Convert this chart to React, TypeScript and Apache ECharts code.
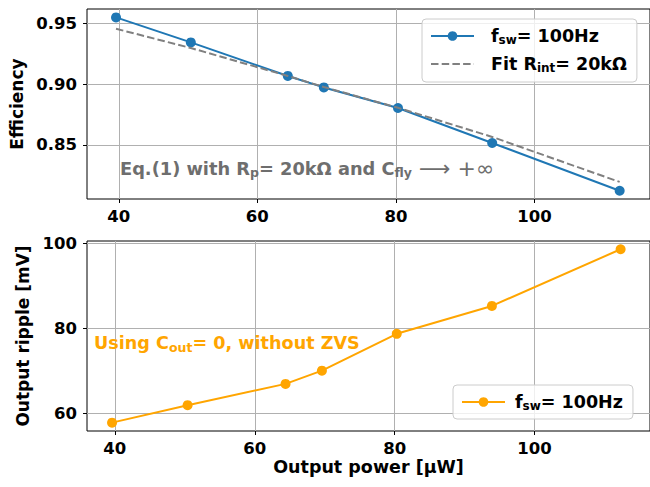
import { useEffect, useRef } from "react";
import * as echarts from "echarts";

const power = [39.6, 50.4, 64.4, 69.6, 80.3, 93.9, 112.3];
const efficiency = [0.9546, 0.9341, 0.9066, 0.8972, 0.8803, 0.8516, 0.8125];
const fitEfficiency = [0.9453, 0.9295, 0.9066, 0.8975, 0.8805, 0.8566, 0.8197];
const ripple = [57.9, 62.0, 67.0, 70.1, 78.75, 85.3, 98.6];
const powerTicks = [40, 60, 80, 100];
const effTicks = [0.85, 0.9, 0.95];
const rippleTicks = [60, 80, 100];

const FONT = '"DejaVu Sans", sans-serif';
const BLUE = "#1f77b4";
const ORANGE = "#ffa500";
const GRAY = "#808080";

const richBase = (size: number, sub: number, color?: string, math = size) => ({
  n: { fontFamily: FONT, fontWeight: "bold", fontSize: size, color, lineHeight: size + 5 },
  s: { fontFamily: FONT, fontWeight: "bold", fontSize: sub, color, lineHeight: size + 5, padding: [8, 0, 0, 0] },
  m: { fontFamily: FONT, fontWeight: "normal", fontSize: math, color, lineHeight: size + 5 },
});

export default function App() {
  const ref = useRef<HTMLDivElement>(null);
  useEffect(() => {
    if (!ref.current) return;
    const chart = echarts.init(ref.current, null, { renderer: "svg" });
    const axisCommon = {
      axisLine: { show: false },
      axisTick: { show: true, length: 4, inside: false, lineStyle: { color: "#000", width: 1 } },
      splitLine: { show: true, lineStyle: { color: "#b0b0b0", width: 1 } },
      axisLabel: { fontFamily: FONT, fontWeight: "bold", fontSize: 16.5, color: "#000" },
    };
    const xStep = powerTicks[1] - powerTicks[0];
    const option: any = {
      animation: false,
      grid: [
        { left: 87, top: 9, right: -3, height: 190, show: true, borderColor: "#000", borderWidth: 1, backgroundColor: "transparent" },
        { left: 87, top: 241, right: -3, height: 190, show: true, borderColor: "#000", borderWidth: 1, backgroundColor: "transparent" },
      ],
      xAxis: [
        {
          ...axisCommon, type: "value", gridIndex: 0, min: 35.41, max: 116.68,
          minInterval: xStep, maxInterval: xStep,
          axisTick: { ...axisCommon.axisTick, customValues: powerTicks },
          axisLabel: { ...axisCommon.axisLabel, customValues: powerTicks, margin: 9 },
        },
        {
          ...axisCommon, type: "value", gridIndex: 1, min: 36.02, max: 116.5,
          minInterval: xStep, maxInterval: xStep,
          axisTick: { ...axisCommon.axisTick, customValues: powerTicks },
          axisLabel: { ...axisCommon.axisLabel, customValues: powerTicks, margin: 9 },
          name: "Output power [μW]", nameLocation: "middle", nameGap: 27,
          nameTextStyle: { fontFamily: FONT, fontWeight: "bold", fontSize: 17.5, color: "#000" },
        },
      ],
      yAxis: [
        {
          ...axisCommon, type: "value", gridIndex: 0, min: 0.8057, max: 0.9615,
          minInterval: effTicks[1] - effTicks[0], maxInterval: effTicks[1] - effTicks[0],
          axisTick: { ...axisCommon.axisTick, customValues: effTicks },
          axisLabel: { ...axisCommon.axisLabel, customValues: effTicks, margin: 10, formatter: (v: number) => v.toFixed(2) },
          name: "Efficiency", nameLocation: "middle", nameGap: 55,
          nameTextStyle: { fontFamily: FONT, fontWeight: "bold", fontSize: 17, color: "#000" },
        },
        {
          ...axisCommon, type: "value", gridIndex: 1, min: 55.94, max: 100.54,
          minInterval: rippleTicks[1] - rippleTicks[0], maxInterval: rippleTicks[1] - rippleTicks[0],
          axisTick: { ...axisCommon.axisTick, customValues: rippleTicks },
          axisLabel: { ...axisCommon.axisLabel, customValues: rippleTicks, margin: 10 },
          name: "Output ripple [mV]", nameLocation: "middle", nameGap: 52,
          nameTextStyle: { fontFamily: FONT, fontWeight: "bold", fontSize: 17, color: "#000" },
        },
      ],
      legend: [
        {
          data: [
            { name: "eff" },
            { name: "fit", itemStyle: { color: "transparent", borderWidth: 0 } },
          ],
          orient: "vertical", left: 422, top: 19,
          padding: [7, 10, 8, 8], itemGap: 8, itemWidth: 43, itemHeight: 12,
          borderColor: "#cccccc", borderWidth: 1, borderRadius: 4, backgroundColor: "rgba(255,255,255,0.8)",
          formatter: (name: string) => name === "eff" ? "{n|f}{s|sw}{n|= 100Hz}" : "{n|Fit R}{s|int}{n|= 20kΩ}",
          textStyle: { padding: [0, 0, 0, 12], rich: richBase(17.5, 12, "#000") },
        },
        {
          data: [{ name: "ripple" }],
          orient: "vertical", left: 453, top: 385,
          padding: [7, 10, 7, 8], itemWidth: 43, itemHeight: 12,
          borderColor: "#cccccc", borderWidth: 1, borderRadius: 4, backgroundColor: "rgba(255,255,255,0.8)",
          formatter: () => "{n|f}{s|sw}{n|= 100Hz}",
          textStyle: { padding: [0, 0, 0, 5], rich: richBase(17.5, 12, "#000") },
        },
      ],
      series: [
        {
          name: "eff", type: "line", xAxisIndex: 0, yAxisIndex: 0,
          data: power.map((p, i) => [p, efficiency[i]]),
          color: BLUE, symbol: "circle", symbolSize: 10, lineStyle: { width: 2 }, z: 3,
        },
        {
          name: "fit", type: "line", xAxisIndex: 0, yAxisIndex: 0,
          data: power.map((p, i) => [p, fitEfficiency[i]]),
          color: GRAY, symbol: "none", lineStyle: { width: 2, type: [7.5, 3.2] }, z: 4,
        },
        {
          name: "ripple", type: "line", xAxisIndex: 1, yAxisIndex: 1,
          data: power.map((p, i) => [p, ripple[i]]),
          color: ORANGE, symbol: "circle", symbolSize: 10, lineStyle: { width: 2 }, z: 3,
        },
      ],
      graphic: [
        {
          type: "text", x: 120, y: 168, z: 10,
          style: {
            text: "{n|Eq.(1) with R}{s|p}{n|= 20kΩ and C}{s|fly}{m| ⟶ +∞}",
            fill: "#6e6e6e", verticalAlign: "middle",
            rich: richBase(17.8, 12.5, "#6e6e6e", 22),
          },
        },
        {
          type: "text", x: 94, y: 343, z: 10,
          style: {
            text: "{n|Using C}{s|out}{n|= 0, without ZVS}",
            fill: ORANGE, verticalAlign: "middle",
            rich: richBase(17.6, 12.5, ORANGE),
          },
        },
      ],
    };
    chart.setOption(option);
    return () => chart.dispose();
  }, []);
  return <div ref={ref} style={{ width: 650, height: 487, position: "absolute", left: 0, top: 0 }} />;
}
